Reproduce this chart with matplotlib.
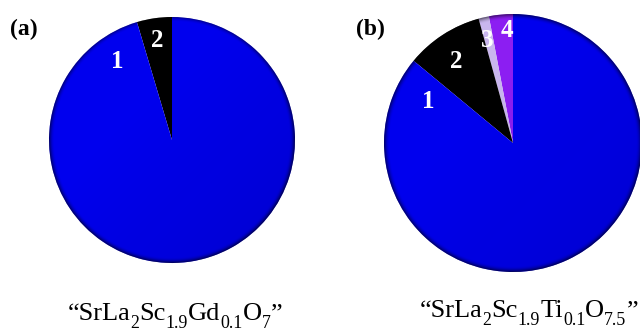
import numpy as np
import matplotlib
matplotlib.use("Agg")
import matplotlib.pyplot as plt
from matplotlib.patches import Circle

plt.rcParams['font.family'] = ['Liberation Serif', 'DejaVu Serif']

# phase fractions (%) of each sample, counter-clockwise from 12 o'clock
labels_a = ['2', '1']
values_a = [4.6, 95.4]
colors_a = ['#000000', '#0000ee']

labels_b = ['4', '3', '2', '1']
values_b = [3.0, 1.3, 9.7, 86.0]
colors_b = ['#8c1ef2', '#c9b6ee', '#000000', '#0000ee']

# captions as (text, subscript?) pieces
caption_a = [('“SrLa', 0), ('2', 1), ('Sc', 0), ('1.9', 1), ('Gd', 0), ('0.1', 1),
             ('O', 0), ('7', 1), ('”', 0)]
caption_b = [('“SrLa', 0), ('2', 1), ('Sc', 0), ('1.9', 1), ('Ti', 0), ('0.1', 1),
             ('O', 0), ('7.5', 1), ('”', 0)]

# label placement: (angle from 12 o'clock, ccw in degrees, radius)
pos_a = {'1': (35, 0.78), '2': (8.5, 0.82)}
pos_b = {'1': (64, 0.73), '2': (35, 0.77), '3': (14, 0.82), '4': (3, 0.87)}

W, H = 640, 331
fig = plt.figure(figsize=(W / 100, H / 100), dpi=100)


def pie_axes(cx, cy, r):
    ax = fig.add_axes([(cx - r) / W, (H - cy - r) / H, 2 * r / W, 2 * r / H])
    ax.set_xlim(-1, 1)
    ax.set_ylim(-1, 1)
    ax.axis('off')
    return ax


def shade(ax):
    # thin dark rim and a soft fall-off toward the lower right
    n = 500
    g = np.linspace(-1, 1, n)
    xx, yy = np.meshgrid(g, g)
    rho = np.hypot(xx, yy)
    rim = np.clip((rho - 0.955) / 0.045, 0, 1) ** 2
    tilt = np.clip((xx - yy) * 0.5 + 0.3, 0, 1)
    alpha = np.clip(0.55 * rim + 0.1 * tilt, 0, 0.7)
    img = np.zeros((n, n, 4))
    img[..., 3] = alpha
    im = ax.imshow(img, extent=(-1, 1, -1, 1), origin='lower', zorder=3,
                   interpolation='bilinear')
    im.set_clip_path(Circle((0, 0), 1.0, transform=ax.transData))


def draw(ax, values, colors, labels, pos):
    ax.pie(values, colors=colors, startangle=90, counterclock=True, radius=1.0,
           wedgeprops=dict(linewidth=0))
    shade(ax)
    for lab in labels:
        ang, rr = pos[lab]
        t = np.deg2rad(90 + ang)
        ax.text(rr * np.cos(t), rr * np.sin(t), lab, color='white',
                fontsize=18, fontweight='bold', ha='center', va='center', zorder=5)
    ax.set_xlim(-1, 1)
    ax.set_ylim(-1, 1)


def caption(xc, ybase, parts, size=19):
    # lay out pieces left to right, subscripts smaller and dropped
    rend = fig.canvas.get_renderer()
    texts = []
    for s, sub in parts:
        fs = size * 0.68 if sub else size
        t = fig.text(0, 0, s, fontsize=fs, ha='left', va='baseline')
        texts.append((t, sub))
    widths = [t.get_window_extent(rend).width for t, _ in texts]
    x = xc - sum(widths) / 2
    drop = size * 100 / 72 * 0.3
    for (t, sub), w in zip(texts, widths):
        y = ybase + (drop if sub else 0)
        t.set_position((x / W, 1 - y / H))
        x += w


ax1 = pie_axes(172, 140, 123)
draw(ax1, values_a, colors_a, labels_a, pos_a)

ax2 = pie_axes(513, 143, 129)
draw(ax2, values_b, colors_b, labels_b, pos_b)

fig.text(10 / W, 1 - 29 / H, '(a)', fontsize=17, fontweight='bold', va='center')
fig.text(356 / W, 1 - 29 / H, '(b)', fontsize=17, fontweight='bold', va='center')

caption(175, 320, caption_a)
caption(529, 317, caption_b)

fig.savefig('out.png', dpi=100, facecolor='white')
